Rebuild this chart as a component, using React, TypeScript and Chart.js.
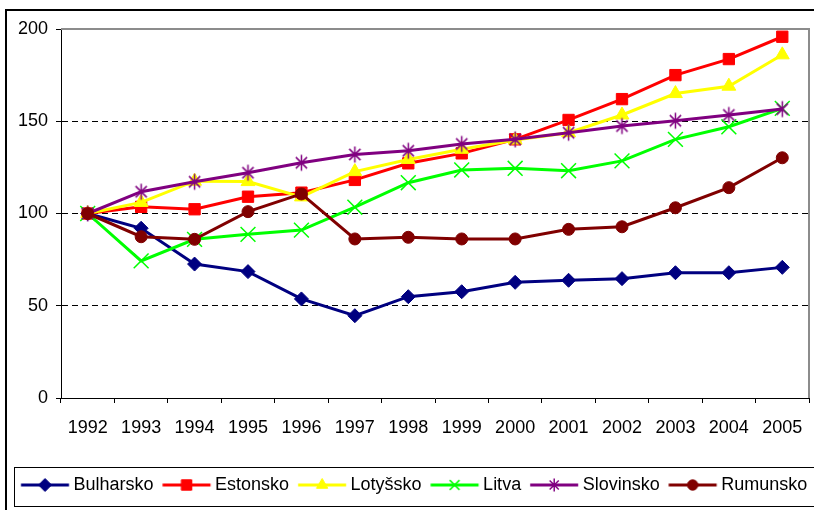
import React, { useEffect, useRef } from 'react';
import { Chart, registerables } from 'chart.js';

Chart.register(...registerables);

const years = ['1992', '1993', '1994', '1995', '1996', '1997', '1998', '1999', '2000', '2001', '2002', '2003', '2004', '2005'];
const bulharsko = [100, 92, 72.6, 68.5, 53.7, 44.6, 54.9, 57.6, 62.7, 63.8, 64.7, 67.9, 67.9, 70.8];
const estonsko = [100, 103.6, 102.3, 109.1, 111.3, 118.2, 127.2, 132.6, 140.2, 150.7, 162, 175, 183.7, 195.8];
const lotyssko = [100, 106, 117.5, 117.3, 109, 122.7, 129.3, 134.8, 139.8, 143.8, 153.4, 165, 169, 186];
const litva = [100, 74.3, 86, 88.7, 91, 103.4, 116.7, 123.6, 124.5, 123.2, 128.5, 140.2, 147, 157];
const slovinsko = [100, 111.8, 117.2, 122.1, 127.5, 132, 134, 137.7, 140.2, 143.8, 147.4, 150.3, 153.4, 156.6];
const rumunsko = [100, 87.4, 86, 101, 110.6, 86.2, 87.1, 86.2, 86.2, 91.4, 92.8, 103.1, 114, 130.2];
const yTicks = [0, 50, 100, 150, 200];

const seriesNames = ['Bulharsko', 'Estonsko', 'Lotyšsko', 'Litva', 'Slovinsko', 'Rumunsko'];
const seriesColors = ['#000080', '#FF0000', '#FFFF00', '#00FF00', '#800080', '#800000'];
const seriesMarkers = ['diamond', 'square', 'triangle', 'x', 'star', 'circle'];

const FONT = "'Liberation Sans', Arial, sans-serif";

function drawMarker(ctx: CanvasRenderingContext2D, kind: string, x: number, y: number, color: string, s: number) {
  ctx.save();
  ctx.fillStyle = color;
  ctx.strokeStyle = color;
  ctx.lineWidth = 1;
  ctx.beginPath();
  if (kind === 'diamond') {
    ctx.moveTo(x, y - s);
    ctx.lineTo(x + s, y);
    ctx.lineTo(x, y + s);
    ctx.lineTo(x - s, y);
    ctx.closePath();
    ctx.fill();
    ctx.stroke();
  } else if (kind === 'square') {
    const h = s * 0.8;
    ctx.rect(x - h, y - h, 2 * h, 2 * h);
    ctx.fill();
    ctx.stroke();
  } else if (kind === 'triangle') {
    ctx.moveTo(x, y - s);
    ctx.lineTo(x + s * 0.87, y + s * 0.5);
    ctx.lineTo(x - s * 0.87, y + s * 0.5);
    ctx.closePath();
    ctx.fill();
    ctx.stroke();
  } else if (kind === 'circle') {
    ctx.arc(x, y, s * 0.8, 0, Math.PI * 2);
    ctx.fill();
    ctx.stroke();
  } else if (kind === 'x') {
    const h = s * 0.75;
    ctx.lineWidth = 1.5;
    ctx.moveTo(x - h, y - h);
    ctx.lineTo(x + h, y + h);
    ctx.moveTo(x + h, y - h);
    ctx.lineTo(x - h, y + h);
    ctx.stroke();
  } else if (kind === 'star') {
    const h = s * 0.7;
    ctx.lineWidth = 1.5;
    ctx.moveTo(x - h, y - h);
    ctx.lineTo(x + h, y + h);
    ctx.moveTo(x + h, y - h);
    ctx.lineTo(x - h, y + h);
    ctx.moveTo(x, y - s);
    ctx.lineTo(x, y + s);
    ctx.stroke();
  }
  ctx.restore();
}

function makeStarPoint(color: string) {
  const c = document.createElement('canvas');
  c.width = 19;
  c.height = 19;
  const ctx = c.getContext('2d')!;
  drawMarker(ctx, 'star', 9.5, 9.5, color, 8);
  return c;
}

// Legend icon: image is centred on the legend box; line is offset inside it.
function makeLegendIcon(kind: string, color: string) {
  const c = document.createElement('canvas');
  c.width = 64;
  c.height = 18;
  const ctx = c.getContext('2d')!;
  const x0 = 13.25;
  ctx.strokeStyle = color;
  ctx.lineWidth = 3;
  ctx.beginPath();
  ctx.moveTo(x0, 9);
  ctx.lineTo(x0 + 48, 9);
  ctx.stroke();
  drawMarker(ctx, kind, x0 + 24, 9, color, 6.5);
  return c;
}

const plotFrame = {
  id: 'plotFrame',
  beforeDatasetsDraw(chart: any) {
    const { ctx, chartArea } = chart;
    const { left, top, right, bottom } = chartArea;
    ctx.save();
    ctx.strokeStyle = '#8c8c8c';
    ctx.lineWidth = 2;
    ctx.beginPath();
    ctx.moveTo(left, top);
    ctx.lineTo(right, top);
    ctx.lineTo(right, bottom);
    ctx.stroke();
    ctx.restore();
  },
};

export default function App() {
  const ref = useRef<HTMLCanvasElement | null>(null);

  useEffect(() => {
    if (!ref.current) return;
    const values = [bulharsko, estonsko, lotyssko, litva, slovinsko, rumunsko];
    const legendIcons = seriesMarkers.map((m, i) => makeLegendIcon(m, seriesColors[i]));
    const styleFor = (kind: string, color: string): any => {
      switch (kind) {
        case 'diamond': return { pointStyle: 'rectRot', pointRadius: 7, pointBorderWidth: 1 };
        case 'square': return { pointStyle: 'rect', pointRadius: 8, pointBorderWidth: 1 };
        case 'triangle': return { pointStyle: 'triangle', pointRadius: 8, pointBorderWidth: 1 };
        case 'x': return { pointStyle: 'crossRot', pointRadius: 10.5, pointBorderWidth: 1.5 };
        case 'star': return { pointStyle: makeStarPoint(color), pointRadius: 8, pointBorderWidth: 1.5 };
        default: return { pointStyle: 'circle', pointRadius: 6, pointBorderWidth: 1 };
      }
    };
    const datasets = seriesNames.map((name, i) => ({
      label: name,
      data: values[i],
      borderColor: seriesColors[i],
      backgroundColor: seriesColors[i],
      pointBackgroundColor: seriesColors[i],
      pointBorderColor: seriesColors[i],
      borderWidth: 3,
      tension: 0,
      fill: false,
      clip: false,
      order: seriesNames.length - 1 - i,
      yAxisID: 'y',
      ...styleFor(seriesMarkers[i], seriesColors[i]),
    }));

    const chart = new Chart(ref.current, {
      type: 'line',
      data: { labels: years, datasets },
      plugins: [plotFrame],
      options: {
        animation: false,
        responsive: false,
        devicePixelRatio: 1,
        layout: { autoPadding: false, padding: { left: 12, right: 0, top: 29, bottom: 6 } },
        plugins: {
          tooltip: { enabled: false },
          title: { display: false },
          legend: {
            display: true,
            position: 'bottom',
            align: 'start',
            labels: {
              usePointStyle: true,
              pointStyleWidth: 49.5,
              padding: 3,
              color: '#000',
              font: { family: FONT, size: 18 },
              generateLabels: (ch: any) =>
                ch.data.datasets.map((ds: any, i: number) => ({
                  text: ds.label,
                  fillStyle: ds.borderColor,
                  strokeStyle: ds.borderColor,
                  lineWidth: 0,
                  pointStyle: legendIcons[i],
                  datasetIndex: i,
                  hidden: false,
                  fontColor: '#000',
                })),
            },
          },
        },
        scales: {
          x: {
            type: 'category',
            offset: true,
            afterFit: (s: any) => {
              s.height = 75;
              s.paddingLeft = 0;
              s.paddingRight = 0;
            },
            grid: {
              offset: true,
              drawOnChartArea: false,
              drawTicks: true,
              tickLength: 5,
              color: '#000',
              tickColor: '#000',
              lineWidth: 1,
            },
            border: { display: true, color: '#000', width: 1 },
            ticks: {
              color: '#000',
              font: { family: FONT, size: 18 },
              padding: 14,
              maxRotation: 0,
              autoSkip: false,
            },
          },
          y: {
            min: 0,
            max: 200,
            afterFit: (s: any) => {
              s.width = 49;
              s.paddingTop = 0;
              s.paddingBottom = 0;
            },
            afterBuildTicks: (s: any) => { s.ticks = yTicks.map((v) => ({ value: v })); },
            grid: {
              drawOnChartArea: true,
              drawTicks: true,
              tickLength: 5,
              color: (c: any) => (c.tick && c.tick.value > 0 && c.tick.value < 200 ? '#000' : 'rgba(0,0,0,0)'),
              tickColor: '#000',
              lineWidth: 1,
            },
            border: { display: true, color: '#000', width: 1, dash: [6, 4] },
            ticks: {
              color: '#000',
              font: { family: FONT, size: 18 },
              padding: 8,
            },
          },
          yRight: {
            type: 'linear',
            position: 'right',
            display: true,
            min: 0,
            max: 200,
            afterFit: (s: any) => {
              s.width = 5;
              s.paddingTop = 0;
              s.paddingBottom = 0;
            },
            grid: { display: false, drawTicks: false },
            border: { display: false },
            ticks: { display: false },
          },
        },
      } as any,
    });
    return () => chart.destroy();
  }, []);

  return (
    <div style={{ position: 'fixed', left: 0, top: 0, width: 814, height: 510, overflow: 'hidden', background: '#fff' }}>
      <div style={{ position: 'absolute', left: 5, top: 9, width: 900, height: 600, border: '2px solid #000', boxSizing: 'border-box' }} />
      <div style={{ position: 'absolute', left: 14, top: 467, width: 900, height: 40, border: '1px solid #000', boxSizing: 'border-box' }} />
      <canvas ref={ref} width={814} height={510} style={{ position: 'absolute', left: 0, top: 0, width: 814, height: 510 }} />
    </div>
  );
}
